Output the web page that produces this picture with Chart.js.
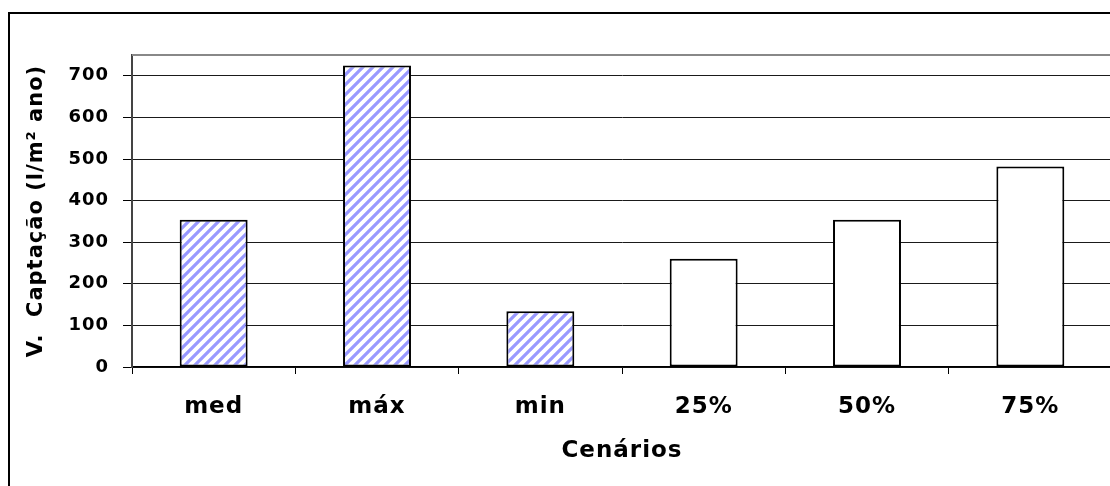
<!DOCTYPE html>
<html><head><meta charset="utf-8">
<script src="https://cdn.jsdelivr.net/npm/chart.js@4.4.1/dist/chart.umd.min.js"></script>
<style>
html,body{margin:0;padding:0;background:#fff;overflow:hidden;}
#wrap{position:relative;width:1130px;height:500px;}
</style></head><body>
<div id="wrap"><canvas id="c"></canvas></div>
<script>
// ---- data ----
const categories = ['med', 'máx', 'min', '25%', '50%', '75%'];
const captacao = [354, 725, 134, 260, 354, 482];
const hatchedCategories = ['med', 'máx', 'min'];
const yTickValues = [0, 100, 200, 300, 400, 500, 600, 700];
const yAxisMax = 750;
const yTitle = 'V.  Captação (l/m² ano)';
const xTitle = 'Cenários';

// ---- styles ----
const FONT = '"DejaVu Sans", "Liberation Sans", Arial, sans-serif';
function makeHatch() {
  const n = 10;
  const c = document.createElement('canvas');
  c.width = n; c.height = n;
  const g = c.getContext('2d');
  g.fillStyle = '#ffffff'; g.fillRect(0, 0, n, n);
  g.strokeStyle = '#9999ff'; g.lineWidth = 3.2;
  g.beginPath();
  for (let k = -n; k <= n; k += n) { g.moveTo(k - 2, n + 2); g.lineTo(k + n + 2, -2); }
  g.stroke();
  return g.createPattern(c, 'repeat');
}
const hatch = makeHatch();

const frame = {
  id: 'frame',
  beforeUpdate(ch) { ch.ctx.letterSpacing = '1px'; },
  beforeDraw(ch) {
    const ctx = ch.ctx;
    ctx.letterSpacing = '1px';
    ctx.save();
    ctx.strokeStyle = '#000'; ctx.lineWidth = 2;
    ctx.beginPath();
    ctx.moveTo(9, ch.height); ctx.lineTo(9, 13); ctx.lineTo(ch.width, 13);
    ctx.stroke();
    ctx.restore();
  },
  beforeDatasetsDraw(ch) {
    const ctx = ch.ctx, a = ch.chartArea;
    ctx.save();
    ctx.strokeStyle = '#888'; ctx.lineWidth = 2;
    ctx.beginPath(); ctx.moveTo(a.left, a.top); ctx.lineTo(a.right, a.top); ctx.stroke();
    ctx.restore();
  }
};

new Chart(document.getElementById('c'), {
  type: 'bar',
  data: {
    labels: categories,
    datasets: [{
      data: captacao,
      backgroundColor: (ctx) => hatchedCategories.includes(categories[ctx.dataIndex]) ? hatch : '#ffffff',
      borderColor: '#000',
      borderWidth: 2,
      borderSkipped: false,
      barPercentage: 0.416,
      categoryPercentage: 1.0
    }]
  },
  options: {
    responsive: true,
    maintainAspectRatio: false,
    animation: false,
    layout: { padding: { left: 24, top: 55, right: 18, bottom: 0 } },
    plugins: { legend: { display: false }, tooltip: { enabled: false } },
    scales: {
      x: {
        grid: { drawOnChartArea: false, drawTicks: true, tickLength: 7, tickColor: '#000', offset: true },
        border: { color: '#000', width: 1.5 },
        ticks: { color: '#000', font: { family: FONT, size: 23, weight: 'bold' }, padding: 19, maxRotation: 0 },
        title: { display: true, text: xTitle, color: '#000', font: { family: FONT, size: 23, weight: 'bold' }, padding: { top: 0, bottom: 35 } },
        afterFit(s) { s.height = 133; }
      },
      y: {
        min: 0, max: yAxisMax,
        afterBuildTicks(s) { s.ticks = yTickValues.map(v => ({ value: v })); },
        grid: { color: '#1a1a1a', lineWidth: 1, tickLength: 9, tickColor: '#000' },
        border: { color: '#444', width: 2 },
        ticks: { color: '#000', font: { family: FONT, size: 18, weight: 'bold' }, padding: 14 },
        title: { display: true, text: yTitle, color: '#000', font: { family: FONT, size: 21, weight: 'bold' }, padding: { top: 0, bottom: 0 } },
        afterFit(s) { s.width = 108; }
      }
    }
  },
  plugins: [frame]
});
</script>
</body></html>
